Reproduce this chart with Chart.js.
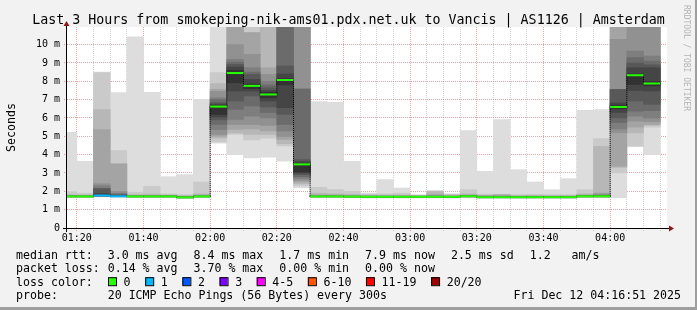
<!DOCTYPE html>
<html><head><meta charset="utf-8">
<script src="https://cdn.jsdelivr.net/npm/chart.js@4.4.1/dist/chart.umd.min.js"></script>
<style>html,body{margin:0;padding:0;background:#f2f2f2;overflow:hidden}canvas{display:block}</style>
</head><body>
<canvas id="c" width="697" height="310"></canvas>
<script>
// ---- data ----
const titleText = 'Last 3 Hours from smokeping-nik-ams01.pdx.net.uk to Vancis | AS1126 | Amsterdam';
const stepEnd = ['01:20','01:25','01:30','01:35','01:40','01:45','01:50','01:55','02:00','02:05','02:10','02:15',
  '02:20','02:25','02:30','02:35','02:40','02:45','02:50','02:55','03:00','03:05','03:10','03:15',
  '03:20','03:25','03:30','03:35','03:40','03:45','03:50','03:55','04:00','04:05','04:10','04:15'];
const medianMs = [1.72,1.72,1.77,1.73,1.72,1.72,1.72,1.67,1.72,6.62,8.45,7.75,7.28,8.07,3.47,
  1.72,1.72,1.71,1.70,1.70,1.70,1.70,1.70,1.70,1.73,1.68,1.68,1.68,1.68,1.68,1.68,1.73,1.73,6.60,8.33,7.88];
const lossPings = [0,0,1,1,0,0,0,0,0,0,0,0,0,0,0,0,0,0,0,0,0,0,0,0,0,0,0,0,0,0,0,0,0,0,0,0];
// 20 sorted ping RTTs (ms) per 5-minute step
const pingsMs = [
 [1.66,1.67,1.68,1.69,1.70,1.70,1.71,1.71,1.72,1.72,1.72,1.73,1.73,1.74,1.75,1.76,1.78,1.82,1.98,5.22],
 [1.66,1.67,1.68,1.69,1.70,1.70,1.71,1.71,1.72,1.72,1.72,1.73,1.73,1.74,1.75,1.76,1.78,1.80,1.90,3.64],
 [1.70,1.71,1.72,1.73,1.74,1.74,1.75,1.75,1.76,1.77,1.80,1.87,2.14,2.15,2.30,2.42,5.37,6.46,8.48,8.50],
 [1.68,1.69,1.70,1.71,1.71,1.72,1.72,1.73,1.73,1.73,1.74,1.76,1.80,1.85,1.90,2.00,3.49,3.51,4.22,7.38],
 [1.66,1.67,1.68,1.69,1.70,1.70,1.71,1.71,1.72,1.72,1.72,1.73,1.73,1.74,1.75,1.76,1.78,1.82,1.95,10.42],
 [1.66,1.67,1.68,1.69,1.70,1.70,1.71,1.71,1.72,1.72,1.72,1.73,1.73,1.74,1.75,1.76,1.78,1.85,2.27,7.40],
 [1.66,1.67,1.68,1.69,1.70,1.70,1.71,1.71,1.72,1.72,1.72,1.73,1.73,1.74,1.75,1.76,1.78,1.80,1.86,2.80],
 [1.61,1.62,1.63,1.64,1.65,1.65,1.66,1.66,1.67,1.67,1.67,1.68,1.68,1.69,1.70,1.71,1.73,1.76,1.82,2.91],
 [1.66,1.67,1.68,1.69,1.70,1.70,1.71,1.71,1.72,1.72,1.72,1.73,1.73,1.74,1.75,1.76,1.80,1.86,2.51,7.01],
 [4.62,4.70,4.90,5.00,5.10,5.37,5.65,5.90,6.05,6.19,6.68,6.75,6.83,7.00,7.10,7.45,7.56,7.87,8.47,11.50],
 [4.00,5.10,5.19,5.37,5.65,5.92,6.47,6.92,7.47,7.92,8.60,8.78,8.92,9.05,9.20,10.00,11.20,11.80,12.20,12.50],
 [3.82,4.80,5.10,5.40,5.65,6.10,6.65,7.20,7.47,7.60,7.85,8.10,8.38,8.50,8.74,9.47,10.65,10.66,11.50,12.50],
 [3.86,4.90,5.10,5.30,5.60,6.00,6.30,6.60,6.92,7.10,7.40,7.50,7.65,7.80,8.00,8.38,8.74,11.20,11.80,12.50],
 [3.64,4.47,4.60,4.83,5.00,5.30,5.65,6.20,6.56,7.80,8.15,8.40,8.83,11.00,11.30,11.60,11.90,12.20,12.50,12.80],
 [2.18,2.30,2.40,2.50,2.60,2.70,2.80,2.91,3.00,3.05,3.52,3.62,3.73,7.56,7.60,11.20,11.50,11.80,12.10,12.40],
 [1.66,1.67,1.68,1.69,1.70,1.70,1.71,1.71,1.72,1.72,1.72,1.73,1.73,1.74,1.75,1.76,1.80,1.90,2.22,6.90],
 [1.66,1.67,1.68,1.69,1.70,1.70,1.71,1.71,1.72,1.72,1.72,1.73,1.73,1.74,1.75,1.76,1.80,1.86,2.10,6.85],
 [1.65,1.66,1.67,1.68,1.69,1.69,1.70,1.70,1.71,1.71,1.71,1.72,1.72,1.73,1.74,1.75,1.78,1.84,2.00,3.64],
 [1.64,1.65,1.66,1.67,1.68,1.68,1.69,1.69,1.70,1.70,1.70,1.71,1.71,1.72,1.73,1.74,1.76,1.80,1.84,1.91],
 [1.64,1.65,1.66,1.67,1.68,1.68,1.69,1.69,1.70,1.70,1.70,1.71,1.71,1.72,1.73,1.74,1.76,1.80,1.86,2.64],
 [1.64,1.65,1.66,1.67,1.68,1.68,1.69,1.69,1.70,1.70,1.70,1.71,1.71,1.72,1.73,1.74,1.76,1.80,1.90,2.18],
 [1.64,1.65,1.66,1.67,1.68,1.68,1.69,1.69,1.70,1.70,1.70,1.71,1.71,1.72,1.73,1.74,1.75,1.76,1.78,1.82],
 [1.64,1.65,1.66,1.67,1.68,1.68,1.69,1.69,1.70,1.70,1.70,1.71,1.71,1.72,1.74,1.78,1.82,1.99,2.00,2.05],
 [1.64,1.65,1.66,1.67,1.68,1.68,1.69,1.69,1.70,1.70,1.70,1.71,1.71,1.72,1.73,1.74,1.76,1.80,1.83,1.87],
 [1.66,1.67,1.68,1.69,1.70,1.71,1.71,1.72,1.72,1.73,1.73,1.74,1.74,1.75,1.76,1.77,1.80,1.86,2.09,5.31],
 [1.62,1.63,1.64,1.65,1.66,1.66,1.67,1.67,1.68,1.68,1.68,1.69,1.69,1.70,1.72,1.74,1.76,1.79,1.85,3.09],
 [1.62,1.63,1.64,1.65,1.66,1.66,1.67,1.67,1.68,1.68,1.68,1.69,1.69,1.70,1.72,1.74,1.80,1.82,1.84,5.91],
 [1.62,1.63,1.64,1.65,1.66,1.66,1.67,1.67,1.68,1.68,1.68,1.69,1.69,1.70,1.71,1.72,1.74,1.77,1.82,3.18],
 [1.62,1.63,1.64,1.65,1.66,1.66,1.67,1.67,1.68,1.68,1.68,1.69,1.69,1.70,1.71,1.72,1.74,1.78,1.84,2.51],
 [1.62,1.63,1.64,1.65,1.66,1.66,1.67,1.67,1.68,1.68,1.68,1.69,1.69,1.70,1.71,1.72,1.74,1.77,1.82,2.09],
 [1.62,1.63,1.64,1.65,1.66,1.66,1.67,1.67,1.68,1.68,1.68,1.69,1.69,1.70,1.71,1.72,1.74,1.77,1.82,2.69],
 [1.66,1.67,1.68,1.69,1.70,1.71,1.71,1.72,1.72,1.73,1.73,1.74,1.74,1.75,1.76,1.77,1.80,1.86,2.09,6.41],
 [1.66,1.67,1.68,1.69,1.70,1.71,1.71,1.72,1.72,1.73,1.73,1.74,1.75,1.76,1.80,1.85,1.91,4.46,4.88,6.46],
 [1.65,3.00,3.30,3.37,5.20,5.40,5.75,6.00,6.30,6.50,6.70,6.82,7.55,7.55,7.56,10.29,11.20,11.80,12.20,12.50],
 [4.45,4.46,5.19,5.50,5.83,6.10,6.37,6.92,7.50,7.83,8.40,8.74,9.00,9.29,9.65,11.20,11.80,12.20,12.50,12.80],
 [4.00,5.50,5.60,5.65,5.80,6.00,6.40,6.74,7.47,7.75,8.00,8.74,8.90,9.10,9.38,11.20,11.50,11.80,12.10,12.40]
];
const xTickLabels = ['01:20','01:40','02:00','02:20','02:40','03:00','03:20','03:40','04:00'];
const yTickLabels = ['0','1 m','2 m','3 m','4 m','5 m','6 m','7 m','8 m','9 m','10 m'];
const lossLegendLabels = ['0','1','2','3','4-5','6-10','11-19','20/20'];
const lossLegendColors = ['#26ff00','#00b8ff','#0059ff','#7e00ff','#ff00ff','#ff5500','#ff0000','#a10000'];
const rttStats = ['3.0 ms avg','8.4 ms max','1.7 ms min','7.9 ms now','2.5 ms sd','1.2   am/s'];
const lossStats = ['0.14 % avg','3.70 % max','0.00 % min','0.00 % now'];
const probeText = '20 ICMP Echo Pings (56 Bytes) every 300s';
const dateText = 'Fri Dec 12 04:16:51 2025';
const viewStart = '01:17:03', viewEnd = '04:17:03';

// ---- helpers ----
const toMin = s => { const p = s.split(':').map(Number); return p[0]*60 + p[1] + (p[2]||0)/60; };
const fmt = v => { const h = Math.floor(v/60), m = Math.round(v - h*60); return String(h).padStart(2,'0')+':'+String(m).padStart(2,'0'); };
const lossColor = n => n === 0 ? lossLegendColors[0] : n === 1 ? lossLegendColors[1] : n === 2 ? lossLegendColors[2] :
  n === 3 ? lossLegendColors[3] : n <= 5 ? lossLegendColors[4] : n <= 10 ? lossLegendColors[5] : n < 20 ? lossLegendColors[6] : lossLegendColors[7];
const STEP = 5;
const centers = stepEnd.map(t => toMin(t) - STEP/2);
const MONO = '"DejaVu Sans Mono"';

// ---- datasets ----
const datasets = [];
const halfStep = ctx => { const s = ctx.chart.scales.x; return (s.getPixelForValue(STEP) - s.getPixelForValue(0)) / 2; };
datasets.push({
  type: 'line', label: 'median', order: 0, showLine: false, clip: 0,
  data: centers.map((x, i) => ({x, y: medianMs[i]})),
  pointStyle: 'line', pointRadius: halfStep, pointHoverRadius: halfStep, pointBorderWidth: 2,
  pointBorderColor: ctx => lossColor(lossPings[ctx.dataIndex]),
  pointBackgroundColor: ctx => lossColor(lossPings[ctx.dataIndex])
});
datasets.push({
  type: 'line', label: 'medianStep', order: 1, clip: 0, stepped: 'middle',
  data: centers.map((x, i) => ({x, y: medianMs[i]})),
  borderColor: '#000', borderWidth: 1, borderDash: [1, 1], pointRadius: 0, fill: false
});
// smoke bands (smokeping style: band b spans ping b .. ping 21-b, darker toward the middle)
for (let b = 10; b >= 1; b--) {
  const g = Math.floor(190 / 10 * (10 - b)) + 50;
  datasets.push({
    type: 'bar', label: 'smoke' + b, order: 12 - b, clip: 0, grouped: false,
    data: centers.map((x, i) => ({x, y: [pingsMs[i][b - 1], pingsMs[i][20 - b]]})),
    backgroundColor: `rgb(${g},${g},${g})`, borderWidth: 0,
    barPercentage: 1, categoryPercentage: 1
  });
}

const gridMinor = 'rgba(140,140,140,0.38)', gridMajor = 'rgba(225,70,70,0.5)';

const framePlugin = {
  id: 'frame',
  beforeDraw(chart) {
    const {ctx, chartArea: a, width: W, height: H} = chart;
    ctx.save();
    ctx.fillStyle = '#f2f2f2'; ctx.fillRect(0, 0, W, H);
    ctx.fillStyle = '#ffffff'; ctx.fillRect(a.left, a.top, a.right - a.left, a.bottom - a.top);
    ctx.fillStyle = '#9e9e9e'; ctx.fillRect(W - 2, 0, 2, H); ctx.fillRect(0, H - 3, W, 3);
    ctx.restore();
  },
  afterDraw(chart) {
    const {ctx, chartArea: a, width: W} = chart;
    ctx.save();
    ctx.setLineDash([]);
    const ax = Math.round(a.left) - 0.5, ay = Math.round(a.bottom) + 0.5;
    ctx.strokeStyle = '#000'; ctx.lineWidth = 1;
    ctx.beginPath();
    ctx.moveTo(a.left - 4, ay); ctx.lineTo(a.right + 2, ay);
    ctx.moveTo(ax, a.bottom + 4); ctx.lineTo(ax, a.top - 2);
    ctx.stroke();
    ctx.fillStyle = '#8c1818';
    ctx.beginPath(); ctx.moveTo(a.right + 2, ay - 3); ctx.lineTo(a.right + 7, ay); ctx.lineTo(a.right + 2, ay + 3); ctx.closePath(); ctx.fill();
    ctx.beginPath(); ctx.moveTo(ax - 3, a.top - 1); ctx.lineTo(ax, a.top - 6); ctx.lineTo(ax + 3, a.top - 1); ctx.closePath(); ctx.fill();

    // title
    ctx.fillStyle = '#000'; ctx.textBaseline = 'alphabetic';
    ctx.font = '13.3px ' + MONO; ctx.textAlign = 'center';
    ctx.fillText(titleText, W / 2, 23.5);
    // unit label
    ctx.save();
    ctx.translate(14.5, (a.top + a.bottom) / 2); ctx.rotate(-Math.PI / 2);
    ctx.font = '11.6px ' + MONO; ctx.textAlign = 'center';
    ctx.fillText('Seconds', 0, 0);
    ctx.restore();
    // watermark
    ctx.save();
    ctx.translate(683.5, 5); ctx.rotate(Math.PI / 2);
    ctx.font = '8px ' + MONO; ctx.textAlign = 'left'; ctx.fillStyle = '#b4b4b4';
    ctx.fillText('RRDTOOL / TOBI OETIKER', 0, 0);
    ctx.restore();

    // legend block
    ctx.font = '11.6px ' + MONO; ctx.textAlign = 'left'; ctx.fillStyle = '#000';
    const rows = [258.5, 272, 285.7, 299.3];
    const colStart = 107.7, gap = 16;
    const row = (label, items, y) => {
      ctx.fillText(label, 16, y);
      let x = colStart;
      items.forEach(s => { ctx.fillText(s, x, y); x += ctx.measureText(s).width + gap; });
    };
    row('median rtt:', rttStats, rows[0]);
    row('packet loss:', lossStats, rows[1]);
    ctx.fillText('loss color:', 16, rows[2]);
    let sx = 108;
    lossLegendLabels.forEach((s, i) => {
      ctx.fillStyle = lossLegendColors[i];
      ctx.fillRect(sx, rows[2] - 8.5, 8, 8);
      ctx.strokeStyle = '#000'; ctx.lineWidth = 1;
      ctx.strokeRect(sx + 0.5, rows[2] - 8.5 + 0.5, 8, 8);
      ctx.fillStyle = '#000';
      ctx.fillText(s, sx + 15.6, rows[2]);
      sx += 15.6 + ctx.measureText(s).width + 14.6;
    });
    ctx.fillText('probe:', 16, rows[3]);
    ctx.fillText(probeText, colStart, rows[3]);
    ctx.textAlign = 'right';
    ctx.fillText(dateText, 681, rows[3]);
    ctx.restore();
  }
};

new Chart(document.getElementById('c'), {
  type: 'bar',
  data: {datasets},
  plugins: [framePlugin],
  options: {
    responsive: false, animation: false, events: [],
    layout: {padding: {left: 0, top: 27, right: 30, bottom: 0}, autoPadding: false},
    plugins: {legend: {display: false}, tooltip: {enabled: false}, title: {display: false}},
    scales: {
      x: {
        type: 'linear', offset: false, min: toMin(viewStart), max: toMin(viewEnd), z: 1,
        afterFit: s => { s.height = 82; },
        afterBuildTicks: s => { s.ticks = stepEnd.map(t => ({value: toMin(t)})); },
        grid: {offset: false, drawTicks: true, tickLength: 3, lineWidth: 1,
          color: c => (c.tick && xTickLabels.includes(fmt(c.tick.value))) ? gridMajor : gridMinor,
          borderDash: [1, 1], tickBorderDash: [1, 1]},
        border: {display: false, dash: [1, 1]},
        ticks: {autoSkip: false, maxRotation: 0, minRotation: 0, padding: 1, color: '#000',
          font: {family: 'DejaVu Sans Mono', size: 10},
          callback: v => { const s = fmt(v); return xTickLabels.includes(s) ? s : ''; }}
      },
      y: {
        type: 'linear', min: 0, max: 10.96, z: 1,
        afterFit: s => { s.width = 67; },
        afterBuildTicks: s => { const t = []; for (let i = 0; i <= 2 * (yTickLabels.length - 1) + 1; i++) t.push({value: i / 2}); s.ticks = t; },
        grid: {drawTicks: true, tickLength: 3, lineWidth: 1,
          color: c => (c.tick && Number.isInteger(c.tick.value)) ? gridMajor : gridMinor,
          borderDash: [1, 1], tickBorderDash: [1, 1]},
        border: {display: false, dash: [1, 1]},
        ticks: {padding: 4, color: '#000', font: {family: 'DejaVu Sans Mono', size: 10},
          callback: v => Number.isInteger(v) ? yTickLabels[v] : ''}
      }
    }
  }
});
</script>
</body></html>
